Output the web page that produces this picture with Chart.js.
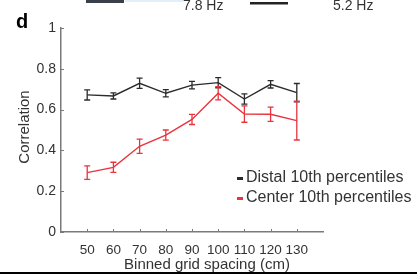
<!DOCTYPE html>
<html lang="en">
<head>
    <meta charset="UTF-8">
    <title>Correlation vs binned grid spacing</title>
    <script src="https://cdn.jsdelivr.net/npm/chart.js"></script>
    <style>
        html, body {
            margin: 0;
            padding: 0;
            background: #fff;
        }

        .wrap {
            position: relative;
            width: 417px;
            height: 275px;
        }
    </style>
</head>
<body>

    <div class="wrap">
        <canvas id="corrChart" width="417" height="275"></canvas>
    </div>

    <script>
        // Binned grid spacing (cm)
        const spacing = [50, 60, 70, 80, 90, 100, 110, 120, 130];

        // Distal 10th percentiles: mean and error
        const distal = [0.672, 0.667, 0.729, 0.68, 0.72, 0.732, 0.652, 0.724, 0.683];
        const distalErr = [0.025, 0.015, 0.025, 0.018, 0.018, 0.025, 0.025, 0.018, 0.045];

        // Center 10th percentiles: mean and error
        const center = [0.291, 0.317, 0.42, 0.475, 0.552, 0.68, 0.578, 0.577, 0.546];
        const centerErr = [0.033, 0.025, 0.035, 0.025, 0.025, 0.032, 0.04, 0.035, 0.095];

        const xTicks = [50, 60, 70, 80, 90, 100, 110, 120, 130];
        const yTicks = [0, 0.2, 0.4, 0.6, 0.8, 1];

        const BLACK = '#2b2b2b';
        const RED = '#e8343c';
        const AXIS = '#7a7a7a';
        const TEXT = '#333';
        const FONT = '"Liberation Sans", Arial, sans-serif';

        const toPoints = (ys) => spacing.map((x, i) => ({ x: x, y: ys[i] }));

        // error bars, inner ticks, titles, legend and page fragments
        const decorations = {
            id: 'decorations',
            afterDatasetsDraw(chart) {
                const ctx = chart.ctx;
                const xs = chart.scales.x;
                const ys = chart.scales.y;
                const sets = [
                    { vals: distal, errs: distalErr, color: BLACK },
                    { vals: center, errs: centerErr, color: RED }
                ];
                ctx.save();
                ctx.lineWidth = 1.3;
                sets.forEach(s => {
                    ctx.strokeStyle = s.color;
                    spacing.forEach((sp, i) => {
                        const px = xs.getPixelForValue(sp);
                        const top = ys.getPixelForValue(s.vals[i] + s.errs[i]);
                        const bot = ys.getPixelForValue(s.vals[i] - s.errs[i]);
                        ctx.beginPath();
                        ctx.moveTo(px, top); ctx.lineTo(px, bot);
                        ctx.moveTo(px - 3, top); ctx.lineTo(px + 3, top);
                        ctx.moveTo(px - 3, bot); ctx.lineTo(px + 3, bot);
                        ctx.stroke();
                    });
                });
                ctx.restore();
            },
            afterDraw(chart) {
                const ctx = chart.ctx;
                const xs = chart.scales.x;
                const ys = chart.scales.y;
                const area = chart.chartArea;
                ctx.save();

                // inner tick marks
                ctx.strokeStyle = AXIS;
                ctx.lineWidth = 1;
                ctx.beginPath();
                xTicks.forEach(v => {
                    const px = Math.round(xs.getPixelForValue(v)) + 0.5;
                    ctx.moveTo(px, area.bottom); ctx.lineTo(px, area.bottom - 3);
                });
                yTicks.forEach(v => {
                    const py = Math.round(ys.getPixelForValue(v)) + 0.5;
                    ctx.moveTo(area.left, py); ctx.lineTo(area.left + 3, py);
                });
                ctx.stroke();

                // axis titles
                ctx.fillStyle = TEXT;
                ctx.font = '15px ' + FONT;
                ctx.textAlign = 'center';
                ctx.textBaseline = 'middle';
                ctx.fillText('Binned grid spacing (cm)', 207, 265);
                ctx.save();
                ctx.translate(25, 127);
                ctx.rotate(-Math.PI / 2);
                ctx.fillText('Correlation', 0, 0);
                ctx.restore();

                // panel letter
                ctx.fillStyle = '#000';
                ctx.font = 'bold 20px ' + FONT;
                ctx.textAlign = 'left';
                ctx.textBaseline = 'alphabetic';
                ctx.fillText('d', 16, 28);

                // legend
                ctx.font = '16px ' + FONT;
                ctx.textBaseline = 'middle';
                ctx.fillStyle = BLACK;
                ctx.fillRect(237, 177, 6, 3);
                ctx.fillStyle = TEXT;
                ctx.fillText('Distal 10th percentiles', 246, 178);
                ctx.fillStyle = RED;
                ctx.fillRect(237, 197, 6, 3);
                ctx.fillStyle = TEXT;
                ctx.fillText('Center 10th percentiles', 246, 198);

                // fragment of the panel above
                ctx.font = '14px ' + FONT;
                ctx.fillStyle = '#3a3f4a';
                ctx.fillRect(86, 0, 38, 3);
                ctx.fillStyle = '#e4eef8';
                ctx.fillRect(125, 0, 58, 2);
                ctx.fillStyle = '#222';
                ctx.fillRect(250, 2, 38, 2.5);
                ctx.fillStyle = TEXT;
                ctx.textBaseline = 'alphabetic';
                ctx.fillText('7.8 Hz', 183, 10);
                ctx.fillText('5.2 Hz', 333, 10);

                // bottom rule
                ctx.fillStyle = '#000';
                ctx.fillRect(0, 272, 417, 2);

                ctx.restore();
            }
        };

        new Chart(document.getElementById('corrChart').getContext('2d'), {
            type: 'line',
            data: {
                datasets: [
                    {
                        label: 'Distal 10th percentiles',
                        data: toPoints(distal),
                        borderColor: BLACK,
                        borderWidth: 1.4,
                        pointRadius: 0,
                        tension: 0
                    },
                    {
                        label: 'Center 10th percentiles',
                        data: toPoints(center),
                        borderColor: RED,
                        borderWidth: 1.4,
                        pointRadius: 0,
                        tension: 0
                    }
                ]
            },
            options: {
                responsive: false,
                animation: false,
                devicePixelRatio: 1,
                layout: {
                    padding: { left: 0, right: 94, top: 28, bottom: 0 }
                },
                plugins: {
                    legend: { display: false },
                    tooltip: { enabled: false }
                },
                scales: {
                    x: {
                        type: 'linear',
                        min: 40,
                        max: 140,
                        grid: { display: false, drawTicks: false },
                        border: { display: true, color: AXIS, width: 1.5 },
                        afterBuildTicks: (scale) => {
                            scale.ticks = xTicks.map(v => ({ value: v }));
                        },
                        afterFit: (scale) => { scale.height = 43; },
                        ticks: {
                            autoSkip: false,
                            maxRotation: 0,
                            padding: 10,
                            color: TEXT,
                            font: { family: FONT, size: 13.5 }
                        }
                    },
                    y: {
                        min: 0,
                        max: 1,
                        grid: { display: false, drawTicks: false },
                        border: { display: true, color: AXIS, width: 1.5 },
                        afterBuildTicks: (scale) => {
                            scale.ticks = yTicks.map(v => ({ value: v }));
                        },
                        afterFit: (scale) => { scale.width = 61; },
                        ticks: {
                            padding: 5,
                            color: TEXT,
                            font: { family: FONT, size: 14 },
                            callback: (v) => String(v)
                        }
                    }
                }
            },
            plugins: [decorations]
        });
    </script>

</body>
</html>
